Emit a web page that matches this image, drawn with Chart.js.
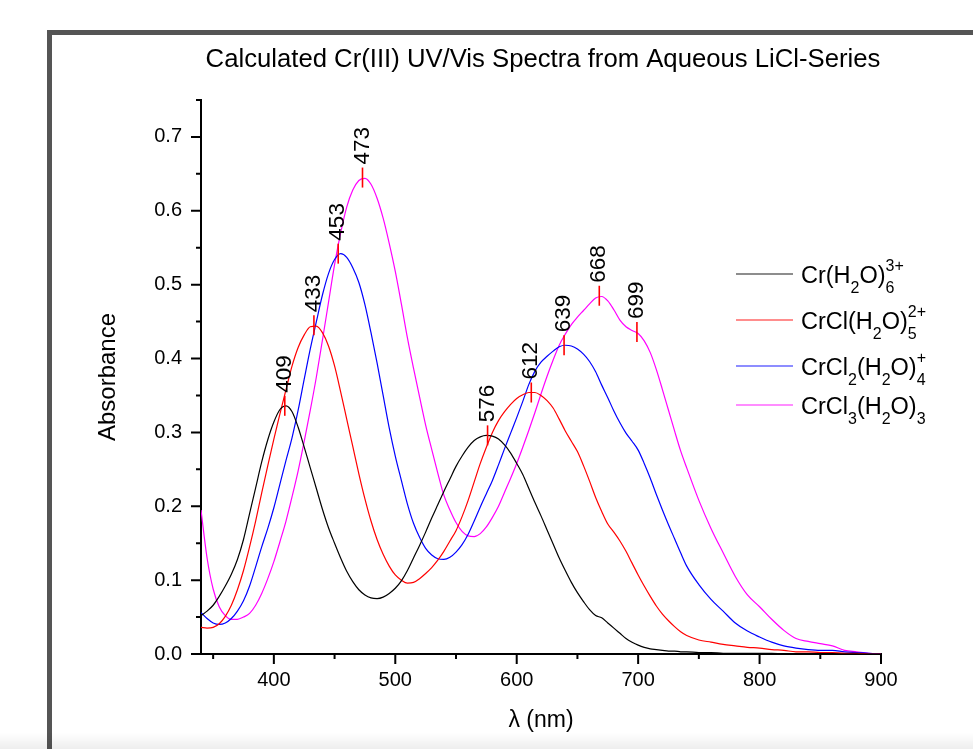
<!DOCTYPE html>
<html>
<head>
<meta charset="utf-8">
<title>Calculated Cr(III) UV/Vis Spectra</title>
<script src="https://cdn.jsdelivr.net/npm/chart.js@4.4.1/dist/chart.umd.min.js"></script>
<style>
  html, body { margin: 0; padding: 0; background: #fff; }
  body { width: 973px; height: 749px; overflow: hidden; position: relative; }
  #frame {
    position: absolute; left: 47px; top: 30px;
    width: 921px; height: 714px;
    border-left: 5px solid #555; border-top: 5px solid #555;
  }
  #shade {
    position: absolute; left: 0; top: 733px; width: 973px; height: 16px;
    background: linear-gradient(to bottom, rgba(0,0,0,0), rgba(0,0,0,0.07));
    pointer-events: none;
  }
</style>
</head>
<body>
<div id="frame"><canvas id="spectraChart" width="921" height="714"></canvas></div>
<div id="shade"></div>
<script>
// Wavelength grid (nm)
const wavelengths = [
  340, 345, 350, 355, 360, 365, 370, 375, 380, 385,
  390, 395, 400, 405, 410, 415, 420, 425, 430, 435,
  440, 445, 450, 455, 460, 465, 470, 475, 480, 485,
  490, 495, 500, 505, 510, 515, 520, 525, 530, 535,
  540, 545, 550, 555, 560, 565, 570, 575, 580, 585,
  590, 595, 600, 605, 610, 615, 620, 625, 630, 635,
  640, 645, 650, 655, 660, 665, 670, 675, 680, 685,
  690, 695, 700, 705, 710, 715, 720, 725, 730, 735,
  740,
  750, 760, 770, 780, 790, 800, 810, 820, 830, 840, 850, 860, 870, 880, 890, 900
];

// Absorbance of each species on the grid above
const hexaaqua = [
  0.052, 0.058, 0.066, 0.078, 0.092, 0.108, 0.128, 0.155, 0.190, 0.225,
  0.260, 0.290, 0.314, 0.331, 0.336, 0.328, 0.307, 0.280, 0.252, 0.224,
  0.196, 0.171, 0.150, 0.130, 0.112, 0.098, 0.087, 0.080, 0.076, 0.075,
  0.077, 0.082, 0.089, 0.099, 0.113, 0.130, 0.147, 0.165, 0.184, 0.202,
  0.220, 0.237, 0.254, 0.268, 0.280, 0.289, 0.294, 0.296, 0.295, 0.291,
  0.283, 0.272, 0.258, 0.243, 0.224, 0.205, 0.187, 0.168, 0.149, 0.130,
  0.113, 0.097, 0.083, 0.071, 0.060, 0.052, 0.049, 0.042, 0.035, 0.028,
  0.021, 0.016, 0.012, 0.009, 0.007, 0.006, 0.005, 0.004, 0.004, 0.003,
  0.003,
  0.002, 0.002, 0.001, 0.001, 0.001, 0.001, 0.001, 0, 0, 0, 0, 0, 0, 0, 0, 0
];
const monochloro = [
  0.036, 0.035, 0.036, 0.041, 0.051, 0.066, 0.087, 0.113, 0.145, 0.180,
  0.218, 0.255, 0.291, 0.325, 0.358, 0.390, 0.415, 0.432, 0.443, 0.444,
  0.435, 0.417, 0.390, 0.355, 0.318, 0.281, 0.244, 0.210, 0.180, 0.155,
  0.135, 0.119, 0.107, 0.100, 0.096, 0.097, 0.102, 0.109, 0.117, 0.127,
  0.139, 0.153, 0.167, 0.186, 0.208, 0.233, 0.258, 0.280, 0.300, 0.316,
  0.328, 0.338, 0.346, 0.351, 0.354, 0.354, 0.350, 0.343, 0.333, 0.318,
  0.302, 0.288, 0.274, 0.255, 0.234, 0.212, 0.193, 0.176, 0.165, 0.153,
  0.139, 0.123, 0.107, 0.092, 0.078, 0.065, 0.054, 0.045, 0.037, 0.030,
  0.025,
  0.019, 0.016, 0.013, 0.011, 0.009, 0.008, 0.006, 0.005, 0.003, 0.003, 0.002, 0.002, 0.001, 0.001, 0, 0
];
const dichloro = [
  0.056, 0.048, 0.042, 0.040, 0.042, 0.048, 0.058, 0.072, 0.092, 0.118,
  0.145, 0.170, 0.198, 0.230, 0.262, 0.293, 0.330, 0.372, 0.413, 0.450,
  0.486, 0.515, 0.534, 0.542, 0.537, 0.523, 0.503, 0.473, 0.435, 0.394,
  0.350, 0.306, 0.268, 0.235, 0.203, 0.177, 0.158, 0.143, 0.134, 0.129,
  0.128, 0.131, 0.138, 0.148, 0.162, 0.180, 0.199, 0.217, 0.235, 0.256,
  0.278, 0.299, 0.320, 0.342, 0.365, 0.383, 0.395, 0.403, 0.410, 0.416,
  0.418, 0.417, 0.413, 0.406, 0.396, 0.382, 0.364, 0.347, 0.329, 0.313,
  0.299, 0.288, 0.276, 0.258, 0.238, 0.216, 0.195, 0.175, 0.156, 0.137,
  0.119,
  0.094, 0.074, 0.058, 0.042, 0.031, 0.023, 0.016, 0.011, 0.008, 0.006, 0.005, 0.005, 0.003, 0.002, 0.001, 0
];
const trichloro = [
  0.195, 0.130, 0.088, 0.064, 0.052, 0.047, 0.047, 0.050, 0.055, 0.066,
  0.082, 0.102, 0.125, 0.152, 0.180, 0.213, 0.248, 0.288, 0.330, 0.375,
  0.425, 0.476, 0.527, 0.570, 0.605, 0.628, 0.641, 0.644, 0.636, 0.617,
  0.590, 0.556, 0.518, 0.474, 0.428, 0.387, 0.348, 0.310, 0.277, 0.245,
  0.215, 0.195, 0.178, 0.166, 0.160, 0.159, 0.163, 0.172, 0.185, 0.200,
  0.219, 0.238, 0.258, 0.280, 0.303, 0.327, 0.352, 0.376, 0.398, 0.418,
  0.433, 0.446, 0.456, 0.465, 0.474, 0.482, 0.484, 0.478, 0.466, 0.452,
  0.443, 0.438, 0.434, 0.424, 0.408, 0.385, 0.358, 0.330, 0.302, 0.275,
  0.252,
  0.208, 0.170, 0.137, 0.105, 0.080, 0.064, 0.047, 0.032, 0.021, 0.017, 0.014, 0.011, 0.005, 0.003, 0.001, 0
];

// Legend names: _{..} subscript, ^{..} superscript
const seriesNames = [
  'Cr(H_{2}O)_{6}^{3+}',
  'CrCl(H_{2}O)_{5}^{2+}',
  'CrCl_{2}(H_{2}O)_{4}^{+}',
  'CrCl_{3}(H_{2}O)_{3}'
];
const seriesColors = ['#000000', '#ff0000', '#0000ff', '#ff00ff'];

// Marked band maxima / shoulders
const peakNm = [409, 433, 453, 473, 576, 612, 639, 668, 699];
const peakAbs = [0.336, 0.445, 0.542, 0.645, 0.296, 0.354, 0.418, 0.485, 0.436];

// Axis ticks
const xTicks = [400, 500, 600, 700, 800, 900];
const xMinorTicks = [350, 450, 550, 650, 750, 850];
const yTicks = [0, 0.1, 0.2, 0.3, 0.4, 0.5, 0.6, 0.7];
const yMinorTicks = [0.05, 0.15, 0.25, 0.35, 0.45, 0.55, 0.65, 0.75];

const FONT = "'Liberation Sans', Arial, sans-serif";
const chartTitle = 'Calculated Cr(III) UV/Vis Spectra from Aqueous LiCl-Series';

// Draws sub/superscript formula text starting at (x, y) baseline
function drawFormula(ctx, text, x, y) {
  const parts = text.match(/_\{[^}]*\}|\^\{[^}]*\}|[^_^]+/g);
  let i = 0;
  while (i < parts.length) {
    const p = parts[i];
    if (p[0] === '_' || p[0] === '^') {
      ctx.font = '16px ' + FONT;
      const isSub = p[0] === '_';
      const t = p.slice(2, -1);
      ctx.fillText(t, x, isSub ? y + 10 : y - 12);
      let w = ctx.measureText(t).width;
      const next = parts[i + 1];
      if (isSub && next && next[0] === '^') {
        const t2 = next.slice(2, -1);
        ctx.fillText(t2, x, y - 12);
        w = Math.max(w, ctx.measureText(t2).width);
        i++;
      }
      x += w;
    } else {
      ctx.font = '23.5px ' + FONT;
      ctx.fillText(p, x, y);
      x += ctx.measureText(p).width;
    }
    i++;
  }
}

const decorPlugin = {
  id: 'decor',
  afterDatasetsDraw(chart) {
    const { ctx, chartArea, scales: { x, y } } = chart;
    ctx.save();

    // minor / major tick marks pointing outward
    ctx.strokeStyle = '#000';
    ctx.lineWidth = 2;
    ctx.beginPath();
    xTicks.forEach(v => { const px = x.getPixelForValue(v); ctx.moveTo(px, chartArea.bottom); ctx.lineTo(px, chartArea.bottom + 10); });
    xMinorTicks.forEach(v => { const px = x.getPixelForValue(v); ctx.moveTo(px, chartArea.bottom); ctx.lineTo(px, chartArea.bottom + 5); });
    yTicks.forEach(v => { const py = y.getPixelForValue(v); ctx.moveTo(chartArea.left, py); ctx.lineTo(chartArea.left - 10, py); });
    yMinorTicks.forEach(v => { const py = y.getPixelForValue(v); ctx.moveTo(chartArea.left, py); ctx.lineTo(chartArea.left - 5, py); });
    ctx.stroke();

    // peak markers with rotated wavelength labels
    ctx.fillStyle = '#000';
    ctx.font = '22.5px ' + FONT;
    ctx.textAlign = 'left';
    ctx.textBaseline = 'middle';
    peakNm.forEach((nm, i) => {
      const px = x.getPixelForValue(nm);
      const py = y.getPixelForValue(peakAbs[i]);
      ctx.strokeStyle = '#ff0000';
      ctx.lineWidth = 1.6;
      ctx.beginPath();
      ctx.moveTo(px, py - 10);
      ctx.lineTo(px, py + 10);
      ctx.stroke();
      ctx.save();
      ctx.translate(px, py - 13);
      ctx.rotate(-Math.PI / 2);
      ctx.fillText(String(nm), 0, 0);
      ctx.restore();
    });

    // title
    ctx.font = '25.7px ' + FONT;
    ctx.textAlign = 'center';
    ctx.textBaseline = 'middle';
    ctx.fillText(chartTitle, (chartArea.left + chartArea.right) / 2 + 2, 25);

    // legend
    const rowY = [239, 285, 331, 370];
    ctx.textAlign = 'left';
    ctx.textBaseline = 'alphabetic';
    seriesNames.forEach((name, i) => {
      ctx.strokeStyle = seriesColors[i];
      ctx.globalAlpha = 0.6;
      ctx.lineWidth = 1.5;
      ctx.beginPath();
      ctx.moveTo(684, rowY[i]);
      ctx.lineTo(741, rowY[i]);
      ctx.stroke();
      ctx.globalAlpha = 1;
      drawFormula(ctx, name, 749, rowY[i] + 9);
    });
    ctx.restore();
  }
};

const ctx = document.getElementById('spectraChart').getContext('2d');
new Chart(ctx, {
  type: 'line',
  data: {
    datasets: [hexaaqua, monochloro, dichloro, trichloro].map((vals, i) => ({
      label: seriesNames[i].replace(/[_^{}]/g, ''),
      data: wavelengths.map((w, j) => ({ x: w, y: vals[j] })),
      borderColor: seriesColors[i],
      borderWidth: 1.2,
      pointRadius: 0,
      fill: false,
      cubicInterpolationMode: 'monotone'
    }))
  },
  options: {
    responsive: false,
    animation: false,
    layout: { padding: { top: 65, right: 92, bottom: 0, left: 0 } },
    plugins: {
      legend: { display: false },
      title: { display: false },
      tooltip: { enabled: false }
    },
    scales: {
      x: {
        type: 'linear',
        min: 340,
        max: 900,
        afterBuildTicks: (s) => { s.ticks = xTicks.map(v => ({ value: v })); },
        afterFit: (s) => { s.height = 95; },
        grid: { display: false, drawTicks: false },
        border: { display: true, color: '#000', width: 2 },
        ticks: { color: '#000', font: { family: FONT, size: 20 }, padding: 14, maxRotation: 0, callback: (v) => String(v) },
        title: { display: true, text: 'λ (nm)', color: '#000', font: { family: FONT, size: 23 }, padding: { top: 0, bottom: 15 } }
      },
      y: {
        type: 'linear',
        min: 0,
        max: 0.75,
        afterBuildTicks: (s) => { s.ticks = yTicks.map(v => ({ value: v })); },
        afterFit: (s) => { s.width = 149; },
        grid: { display: false, drawTicks: false },
        border: { display: true, color: '#000', width: 2 },
        ticks: { color: '#000', font: { family: FONT, size: 20 }, padding: 19, callback: (v) => v.toFixed(1) },
        title: { display: true, text: 'Absorbance', color: '#000', font: { family: FONT, size: 24 }, padding: { top: 42, bottom: 0 } }
      }
    }
  },
  plugins: [decorPlugin]
});
</script>
</body>
</html>
